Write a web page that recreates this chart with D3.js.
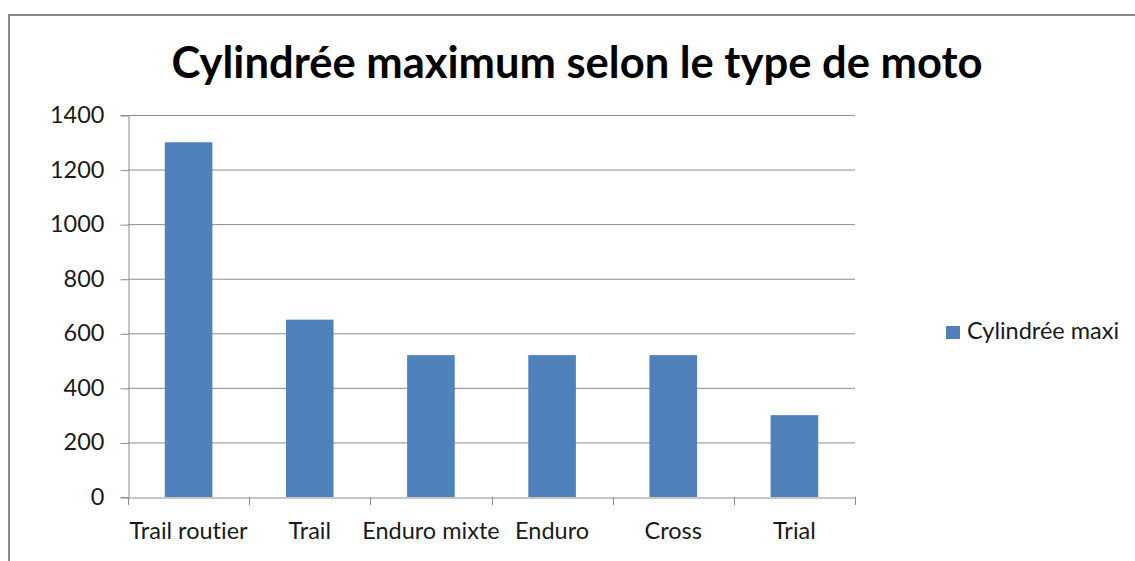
<!DOCTYPE html>
<html><head><meta charset="utf-8">
<script src="https://cdn.jsdelivr.net/npm/d3@7"></script>
<style>
html,body{margin:0;padding:0;background:#fff;}
svg text{font-family:Lato,"Open Sans",sans-serif;font-variant-ligatures:none;font-feature-settings:"liga" 0,"clig" 0;}
</style></head>
<body>
<svg id="chart" width="1135" height="561"></svg>
<script>
const categories = ["Trail routier","Trail","Enduro mixte","Enduro","Cross","Trial"];
const values = [1300, 650, 520, 520, 520, 300];
const seriesName = "Cylindrée maxi";
const yTicks = [0,200,400,600,800,1000,1200,1400];
const title = "Cylindrée maximum selon le type de moto";

(function(){
const svg = d3.select("#chart");
const color = "#4F81BD", grid = "#8c8c8c", textColor = "#1a1a1a";
const fs = 23.5;

// chart border
svg.append("path").attr("d","M9,561 V15 H1135").attr("fill","none").attr("stroke","#8a8a8a").attr("stroke-width",2);

const pl = 128, pr = 855, pt = 115, pb = 497;
const x = d3.scaleBand().domain(categories).range([pl,pr]).paddingInner(0.607).paddingOuter(0.3035);
const xStep = d3.scaleBand().domain(categories).range([pl,pr]);
const y = d3.scaleLinear().domain([0,1400]).range([pb,pt]);

// gridlines
svg.append("g").selectAll("line").data(yTicks.filter(d=>d>0)).join("line")
  .attr("x1",pl).attr("x2",pr).attr("y1",d=>y(d)+0.5).attr("y2",d=>y(d)+0.5)
  .attr("stroke",grid).attr("stroke-width",1);

// y axis
const yAxis = svg.append("g").attr("transform",`translate(${pl+0.5},0)`)
  .call(d3.axisLeft(y).tickValues(yTicks).tickSize(8).tickPadding(16).tickFormat(d3.format("d")));
yAxis.select(".domain").attr("stroke",grid);
yAxis.selectAll(".tick line").attr("stroke",grid).attr("transform","translate(0,0.5)");
yAxis.selectAll("text").attr("font-size",fs).attr("fill",textColor).attr("font-family","Lato, sans-serif");

// bars
svg.append("g").selectAll("rect").data(values).join("rect")
  .attr("x",(d,i)=>x(categories[i])).attr("width",x.bandwidth())
  .attr("y",d=>y(d)).attr("height",d=>y(0)-y(d)).attr("fill",color);

// x axis
const xAxis = svg.append("g").attr("transform",`translate(0,${pb+0.5})`)
  .call(d3.axisBottom(xStep).tickSize(0).tickPadding(22));
xAxis.select(".domain").attr("stroke",grid);
xAxis.selectAll("text").attr("font-size",fs).attr("fill",textColor).attr("font-family","Lato, sans-serif")
  .attr("dy",null).attr("y",41.5);
// category separator ticks
const bounds = categories.map(c=>xStep(c)).concat([pr]);
svg.append("g").selectAll("line").data(bounds).join("line")
  .attr("x1",d=>Math.round(d)+0.5).attr("x2",d=>Math.round(d)+0.5)
  .attr("y1",pb).attr("y2",pb+8).attr("stroke",grid);

// title
svg.append("text").attr("x",577).attr("y",78).attr("text-anchor","middle")
  .attr("font-size",43.5).attr("font-weight","bold").attr("fill","#000").text(title);

// legend
svg.append("rect").attr("x",946).attr("y",326).attr("width",14).attr("height",13).attr("fill",color);
svg.append("text").attr("x",967).attr("y",339).attr("font-size",fs).attr("fill",textColor).text(seriesName);
})();
</script>
</body></html>
